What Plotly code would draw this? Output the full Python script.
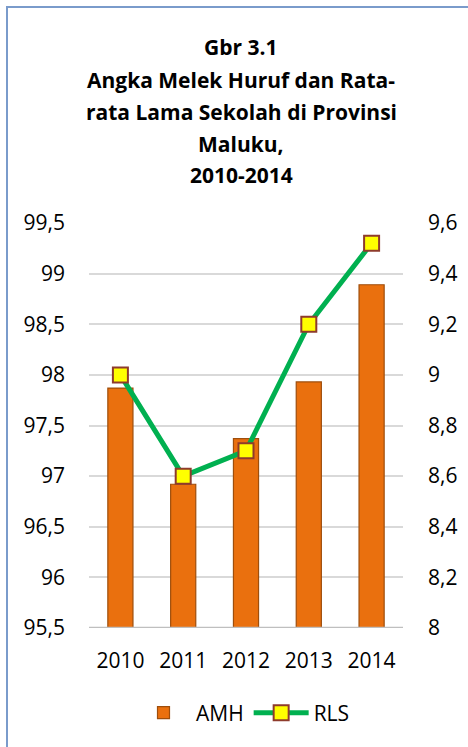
import plotly.graph_objects as go

years = ["2010", "2011", "2012", "2013", "2014"]
amh = [97.87, 96.92, 97.37, 97.93, 98.89]
rls = [9.0, 8.6, 8.7, 9.2, 9.52]
title_lines = ["Gbr 3.1", "Angka Melek Huruf dan Rata-", "rata Lama Sekolah di Provinsi", "Maluku,", "2010-2014"]

W, H = 468, 747
L, R, T, B = 89, 65, 223, 119
PW, PH = W - L - R, H - T - B

def px(x):
    return (x - L) / PW

def py(y):
    return (H - B - y) / PH

FONT = "Open Sans"

fig = go.Figure()
fig.add_trace(go.Bar(
    x=years, y=amh, name="AMH", yaxis="y",
    marker=dict(color="#EA700E", line=dict(color="#9E4E0C", width=1.2)),
    width=0.4,
))
fig.add_trace(go.Scatter(
    x=years, y=rls, name="RLS", yaxis="y2", mode="lines+markers",
    line=dict(color="#00B050", width=5),
    marker=dict(symbol="square", size=15, color="#FFFF00",
                line=dict(color="#8E3B2C", width=2)),
))

annotations = []
ys = [47, 80, 112, 144, 175]
for t, yy in zip(title_lines, ys):
    annotations.append(dict(
        text="<b>%s</b>" % t, x=px(241), y=py(yy), xref="paper", yref="paper",
        xanchor="center", yanchor="middle", showarrow=False,
        font=dict(family=FONT, size=21, color="#000000"),
    ))

fig.update_layout(
    width=W, height=H,
    margin=dict(l=L, r=R, t=T, b=B, pad=0),
    paper_bgcolor="white", plot_bgcolor="white",
    separators=",.",
    font=dict(family=FONT, size=21, color="#000000"),
    showlegend=True,
    legend=dict(orientation="h", x=px(243), xanchor="center", y=py(713), yanchor="middle",
                font=dict(family=FONT, size=21), itemwidth=55, traceorder="normal"),
    bargap=0.6,
    xaxis=dict(type="category", showgrid=False, showline=False, ticks="",
               ticklabelstandoff=18, tickfont=dict(size=21)),
    yaxis=dict(range=[95.5, 99.5], dtick=0.5, tick0=95.5, showgrid=True,
               gridcolor="#D9D9D9", gridwidth=1.5, zeroline=False, showline=False,
               ticks="", ticklabelstandoff=23, tickfont=dict(size=21)),
    yaxis2=dict(range=[8, 9.6], dtick=0.2, tick0=8, overlaying="y", side="right",
                showgrid=False, zeroline=False, showline=False, ticks="",
                ticklabelstandoff=24, tickfont=dict(size=21)),
    annotations=annotations,
    shapes=[
        dict(type="line", xref="paper", yref="y", x0=0, x1=1, y0=95.5, y1=95.5,
             line=dict(color="#BFBFBF", width=2.5), layer="above"),
        dict(type="rect", xref="paper", yref="paper",
             x0=px(7), x1=px(480), y0=py(7), y1=py(760),
             line=dict(color="#7A9BCB", width=2), layer="below"),
    ],
)

fig.write_html("out.html")
